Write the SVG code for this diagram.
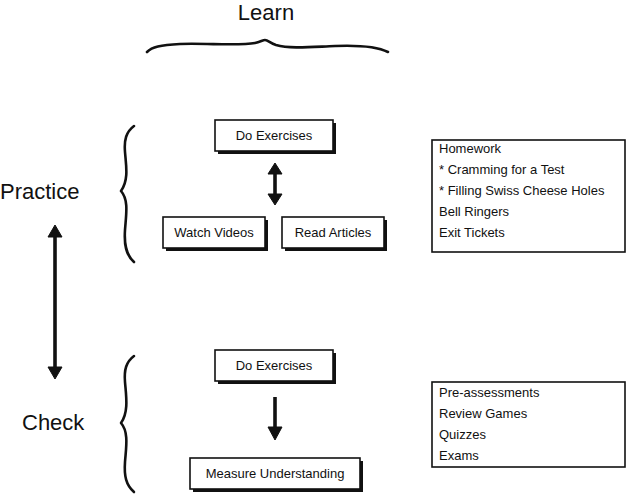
<svg xmlns="http://www.w3.org/2000/svg" width="627" height="495" viewBox="0 0 627 495">
<style>
text{font-family:"Liberation Sans",Arial,sans-serif;fill:#111}
.big{font-size:22px}
.lbl{font-size:13px}
.box{fill:#fff;stroke:#111;stroke-width:1.6}
.sh{fill:#111}
.brace{fill:none;stroke:#111;stroke-width:2.6;stroke-linecap:round;stroke-linejoin:round}
.ar{stroke:#111;stroke-width:3.6;fill:none}
.head{fill:#111;stroke:#111;stroke-width:1;stroke-linejoin:round}
</style>
<rect width="627" height="495" fill="#fff"/>

<g id="title-learn">
<text class="big" x="266" y="20" text-anchor="middle">Learn</text>
<path class="brace" d="M147,52 C152,47 160,45 180,44 C205,43 240,46 255,43 C260,42 263,40 265,40 C268,40 270,43 276,45 C290,49 310,47 335,46 C360,45 378,47 388,52"/>
</g>

<g id="label-practice">
<text class="big" x="0" y="199">Practice</text>
</g>
<g id="brace-practice">
<path class="brace" d="M134,126 C126,132 124,140 125,152 C126,165 129,180 121,191 C129,200 126,215 125,230 C124,245 126,255 134,262"/>
</g>

<g id="label-check">
<text class="big" x="22" y="430">Check</text>
</g>
<g id="brace-check">
<path class="brace" d="M134,356 C126,362 124,370 125,382 C126,395 129,412 121,423 C129,432 126,448 125,462 C124,476 126,485 134,492"/>
</g>

<g id="node-do-exercises-1">
<rect class="sh" x="218" y="123" width="118" height="31"/>
<rect class="box" x="215" y="120" width="118" height="31"/>
<text class="lbl" x="274" y="140" text-anchor="middle">Do Exercises</text>
</g>

<g id="node-watch-videos">
<rect class="sh" x="166" y="220" width="102" height="31"/>
<rect class="box" x="163" y="217" width="102" height="31"/>
<text class="lbl" x="214" y="237" text-anchor="middle">Watch Videos</text>
</g>

<g id="node-read-articles">
<rect class="sh" x="285" y="220" width="102" height="31"/>
<rect class="box" x="282" y="217" width="102" height="31"/>
<text class="lbl" x="333" y="237" text-anchor="middle">Read Articles</text>
</g>

<g id="node-do-exercises-2">
<rect class="sh" x="218" y="353" width="118" height="31"/>
<rect class="box" x="215" y="350" width="118" height="31"/>
<text class="lbl" x="274" y="370" text-anchor="middle">Do Exercises</text>
</g>

<g id="node-measure-understanding">
<rect class="sh" x="193" y="461" width="170" height="31"/>
<rect class="box" x="190" y="458" width="170" height="31"/>
<text class="lbl" x="275" y="478" text-anchor="middle">Measure Understanding</text>
</g>

<g id="node-practice-list">
<rect class="box" x="432" y="140" width="193" height="112" stroke-width="1.8"/>
<text class="lbl" x="439" y="153">Homework</text>
<text class="lbl" x="439" y="174">* Cramming for a Test</text>
<text class="lbl" x="439" y="195">* Filling Swiss Cheese Holes</text>
<text class="lbl" x="439" y="216">Bell Ringers</text>
<text class="lbl" x="439" y="237">Exit Tickets</text>
</g>

<g id="node-check-list">
<rect class="box" x="432" y="382" width="193" height="85" stroke-width="1.8"/>
<text class="lbl" x="439" y="397">Pre-assessments</text>
<text class="lbl" x="439" y="418">Review Games</text>
<text class="lbl" x="439" y="439">Quizzes</text>
<text class="lbl" x="439" y="460">Exams</text>
</g>

<g id="connectors">
<path class="ar" d="M275,172 L275,196"/>
<path class="head" d="M268,174 L275,163 L282,174 Z"/>
<path class="head" d="M268,194 L275,205 L282,194 Z"/>

<path class="ar" d="M55,236 L55,368"/>
<path class="head" d="M48,237 L55,225 L62,237 Z"/>
<path class="head" d="M48,367 L55,379 L62,367 Z"/>

<path class="ar" d="M275,397 L275,428"/>
<path class="head" d="M268,427 L275,440 L282,427 Z"/>
</g>
</svg>
